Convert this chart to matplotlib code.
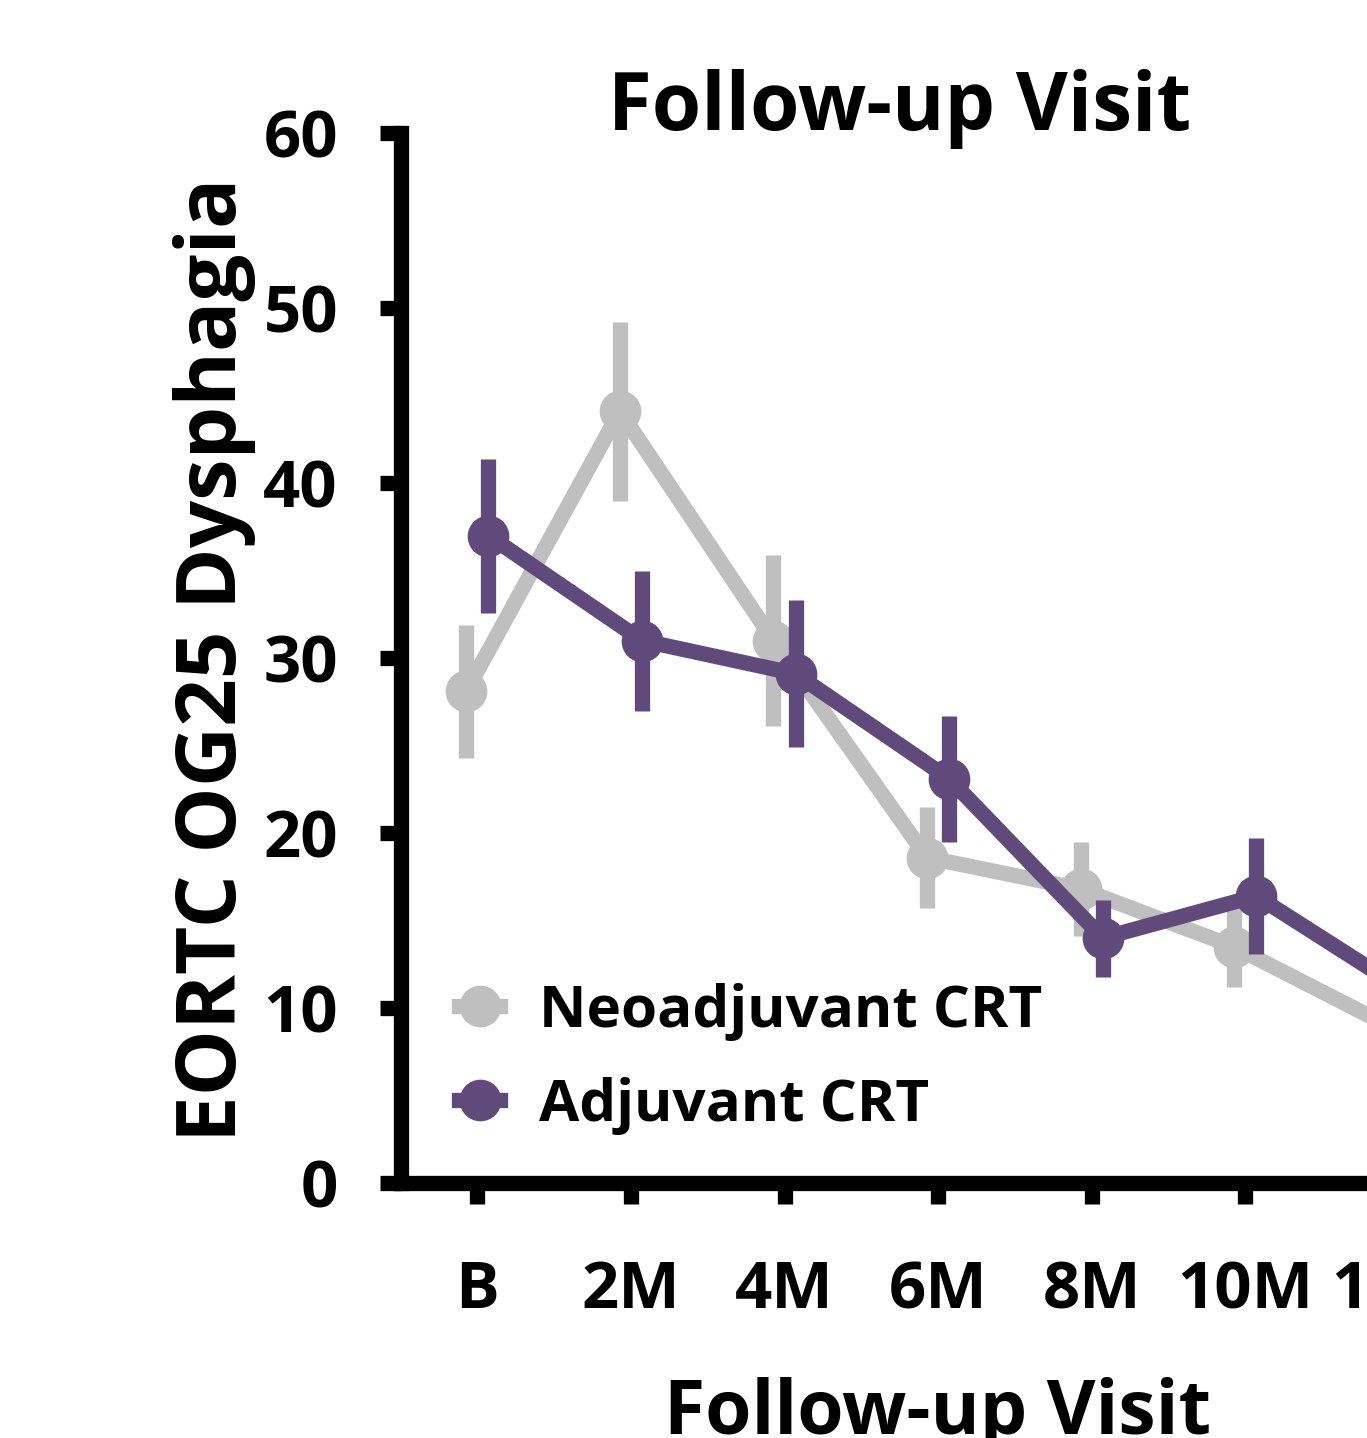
import matplotlib
matplotlib.use("Agg")
import matplotlib.pyplot as plt
import numpy as np

plt.rcParams['font.family'] = ['Open Sans', 'DejaVu Sans']
plt.rcParams['font.weight'] = 'bold'

# Data
visits = ['B', '2M', '4M', '6M', '8M', '10M', '12M']
neo_mean = [28.1, 44.1, 31.0, 18.6, 16.8, 13.5, 9.0]
neo_err = [3.8, 5.1, 4.9, 2.9, 2.7, 2.3, 2.2]
adj_mean = [37.0, 31.0, 29.1, 23.1, 14.0, 16.4, 10.8]
adj_err = [4.4, 4.0, 4.2, 3.6, 2.2, 3.3, 2.5]
series_labels = ['Neoadjuvant CRT', 'Adjuvant CRT']
yticks = [0, 10, 20, 30, 40, 50, 60]

W, H = 1367, 1438
DPI = 100
fig = plt.figure(figsize=(W / DPI, H / DPI), dpi=DPI)

GRAY = '#BFBFBF'
PURPLE = '#604A7B'

ax_left = 400.5 / W
ax_bottom = 1 - 1183 / H
ax_top = 1 - 133 / H
step_px = 153.6
ax_width = (7 * step_px) / W
ax = fig.add_axes([ax_left, ax_bottom, ax_width, ax_top - ax_bottom])

x = np.arange(len(visits))
off = 0.072
lw = 11
ms = 29

c1 = ax.errorbar(x - off, neo_mean, yerr=neo_err, fmt='-o', color=GRAY,
                 lw=lw, ms=ms, elinewidth=lw, capsize=0, zorder=3,
                 label=series_labels[0], clip_on=False)
c2 = ax.errorbar(x + off, adj_mean, yerr=adj_err, fmt='-o', color=PURPLE,
                 lw=lw, ms=ms, elinewidth=lw, capsize=0, zorder=4,
                 label=series_labels[1], clip_on=False)

ax.set_xlim(-0.5, 6.5)
ax.set_ylim(0, 60)
ax.set_xticks(x)
ax.set_xticklabels(visits)
ax.set_yticks(yticks)

for s in ['top', 'right']:
    ax.spines[s].set_visible(False)
for s in ['left', 'bottom']:
    ax.spines[s].set_linewidth(11)
    ax.spines[s].set_color('black')

ax.tick_params(axis='both', which='major', width=11, length=15,
               labelsize=47, direction='out', color='black')
ax.tick_params(axis='y', pad=30)
ax.tick_params(axis='x', pad=40)

leg = ax.legend(handles=[c1[0], c2[0]], labels=series_labels,
                loc='upper left', bbox_to_anchor=(0.033, 0.213),
                frameon=False, fontsize=42, handlelength=0.7,
                handletextpad=0.67, labelspacing=0.62, borderaxespad=0.0)
for t in leg.get_texts():
    t.set_fontweight('bold')

fig.text(900 / W, 1 - 130 / H, 'Follow-up Visit', ha='center',
         va='baseline', fontsize=57.5, fontweight='bold')
fig.text(938 / W, 1 - 1434 / H, 'Follow-up Visit', ha='center',
         va='baseline', fontsize=54, fontweight='bold')
fig.text(236 / W, 1 - 660 / H, 'EORTC OG25 Dysphagia', ha='center',
         va='baseline', rotation=90, rotation_mode='anchor',
         fontsize=60, fontweight='bold')

fig.savefig('out.png', dpi=DPI)
